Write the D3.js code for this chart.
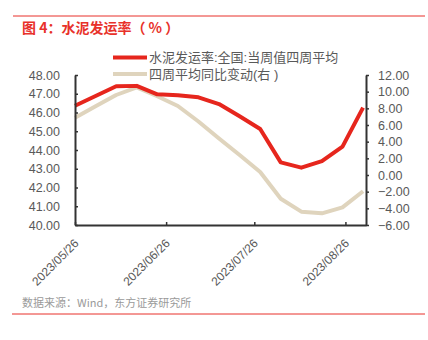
<!DOCTYPE html>
<html>
<head>
<meta charset="utf-8">
<script src="https://cdn.jsdelivr.net/npm/d3@7"></script>
<style>
  html, body { margin: 0; padding: 0; background: #fff; }
  svg { display: block; }
  text { font-family: "Liberation Sans", Arial, "Noto Sans CJK SC", sans-serif; }
  .cjk { font-family: "Noto Sans CJK SC", "Liberation Sans", sans-serif; }
</style>
</head>
<body>
<svg id="chart" width="428" height="340"></svg>
<script>
// Weekly observations
const dates = [
  "2023-05-26", "2023-06-02", "2023-06-09", "2023-06-16", "2023-06-23",
  "2023-06-30", "2023-07-07", "2023-07-14", "2023-07-21", "2023-07-28",
  "2023-08-04", "2023-08-11", "2023-08-18", "2023-08-25", "2023-09-01"
];
// 水泥发运率:全国:当周值四周平均 (left axis, %)
const shipRate = [46.36, 46.88, 47.40, 47.42, 46.97, 46.92, 46.81, 46.45, 45.80, 45.12,
                  43.34, 43.06, 43.41, 44.18, 46.26];
// 四周平均同比变动 (right axis)
const yoyChange = [6.88, 8.25, 9.60, 10.52, 9.45, 8.28, 6.42, 4.38, 2.40, 0.36,
                   -2.85, -4.40, -4.60, -3.88, -1.95];

const xTickLabels = ["2023/05/26", "2023/06/26", "2023/07/26", "2023/08/26"];
const leftTicks = [40, 41, 42, 43, 44, 45, 46, 47, 48];
const rightTicks = [-6, -4, -2, 0, 2, 4, 6, 8, 10, 12];

const seriesNames = ["水泥发运率:全国:当周值四周平均", "四周平均同比变动(右 )"];
const colors = ["#e6261d", "#dfd4bd"];

const svg = d3.select("#chart");
const parse = d3.utcParse("%Y-%m-%d");
const parseTick = d3.utcParse("%Y/%m/%d");
const fmtTick = d3.utcFormat("%Y/%m/%d");

const plot = { left: 75, right: 366, top: 75, bottom: 225 };

const x = d3.scaleUtc()
  .domain([parse("2023-05-26"), parse("2023-09-02")])
  .range([plot.left, plot.right]);
const yL = d3.scaleLinear().domain([40, 48]).range([plot.bottom, plot.top]);
const yR = d3.scaleLinear().domain([-6, 12]).range([plot.bottom, plot.top]);

// Frame rules and header
svg.append("line").attr("x1", 13).attr("x2", 425).attr("y1", 16).attr("y2", 16)
  .attr("stroke", "#e8312a").attr("stroke-width", 1);
svg.append("line").attr("x1", 12).attr("x2", 425).attr("y1", 314).attr("y2", 314)
  .attr("stroke", "#e8312a").attr("stroke-width", 1);
svg.append("text").attr("class", "cjk")
  .attr("x", 22).attr("y", 33)
  .attr("fill", "#e8312a").attr("font-size", 14).attr("font-weight", "bold")
  .text("图 4：水泥发运率（ % ）");
svg.append("text").attr("class", "cjk")
  .attr("x", 22).attr("y", 307)
  .attr("fill", "#9a9a9a").attr("font-size", 11)
  .text("数据来源：Wind，东方证券研究所");

// Series lines
const line = (yScale) => d3.line()
  .x((d, i) => x(parse(dates[i])))
  .y(d => yScale(d));

svg.append("path").datum(yoyChange)
  .attr("d", line(yR))
  .attr("fill", "none").attr("stroke", colors[1]).attr("stroke-width", 4)
  .attr("stroke-linejoin", "round");
svg.append("path").datum(shipRate)
  .attr("d", line(yL))
  .attr("fill", "none").attr("stroke", colors[0]).attr("stroke-width", 4)
  .attr("stroke-linejoin", "round");

// Axes
const axisColor = "#333";
const labelColor = "#595959";

const gL = svg.append("g").attr("transform", `translate(${plot.left},0)`)
  .call(d3.axisLeft(yL).tickValues(leftTicks).tickFormat(d3.format(".2f"))
    .tickSizeInner(-3).tickSizeOuter(0).tickPadding(15));
const gR = svg.append("g").attr("transform", `translate(${plot.right},0)`)
  .call(d3.axisRight(yR).tickValues(rightTicks).tickFormat(d3.format(".2f"))
    .tickSizeInner(3).tickSizeOuter(0).tickPadding(9));
const gB = svg.append("g").attr("transform", `translate(0,${plot.bottom})`)
  .call(d3.axisBottom(x).tickValues(xTickLabels.map(parseTick)).tickFormat(fmtTick)
    .tickSizeInner(-3).tickSizeOuter(0));

[gL, gR, gB].forEach(g => {
  g.select(".domain").attr("stroke", axisColor).attr("stroke-width", 2);
  g.selectAll(".tick line").attr("stroke", axisColor).attr("stroke-width", 1.5);
  g.selectAll(".tick text").attr("fill", labelColor).attr("font-size", 12.5);
});
gB.selectAll(".tick text")
  .attr("font-size", 12)
  .attr("text-anchor", "end")
  .attr("dy", null).attr("y", 0)
  .attr("transform", "translate(4,19) rotate(-45)");

// Legend
const legend = svg.append("g");
seriesNames.forEach((name, i) => {
  const ly = 57.5 + i * 16.5;
  legend.append("line").attr("x1", 113).attr("x2", 147).attr("y1", ly).attr("y2", ly)
    .attr("stroke", colors[i]).attr("stroke-width", 4);
  legend.append("text")
    .attr("x", 149).attr("y", ly).attr("dy", "0.35em")
    .attr("fill", labelColor).attr("font-size", 13)
    .text(name);
});
</script>
</body>
</html>
